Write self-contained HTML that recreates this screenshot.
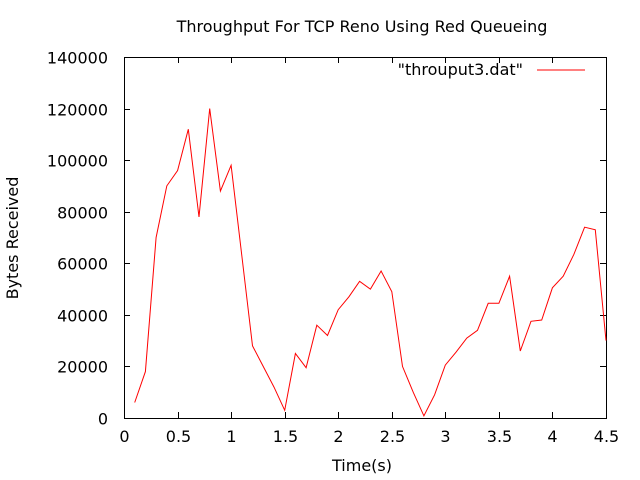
<!DOCTYPE html>
<html><head><meta charset="utf-8"><style>
body{margin:0;background:#fff}
svg{display:block;font-family:"DejaVu Sans","Liberation Sans",sans-serif}
</style></head><body>
<svg id="chart" width="640" height="480">
<rect x="0" y="0" width="640" height="480" fill="#fff"/>
<g id="axes"></g>
<text x="362" y="32" font-size="16" text-anchor="middle">Throughput For TCP Reno Using Red Queueing</text>
<text x="362" y="471" font-size="16" text-anchor="middle">Time(s)</text>
<text transform="translate(18,238) rotate(-90)" font-size="16" text-anchor="middle">Bytes Received</text>
<g>
<text x="523" y="75" font-size="16" text-anchor="end">"throuput3.dat"</text>
<line x1="537" y1="70" x2="585" y2="70" stroke="#f00" stroke-width="1"/>
</g>
<polyline id="series" fill="none" stroke="#f00" stroke-width="1"/>
</svg>
<script>
const times=[0.1,0.2,0.3,0.4,0.5,0.6,0.7,0.8,0.9,1.0,1.1,1.2,1.3,1.4,1.5,1.6,1.7,1.8,1.9,2.0,2.1,2.2,2.3,2.4,2.5,2.6,2.7,2.8,2.9,3.0,3.1,3.2,3.3,3.4,3.5,3.6,3.7,3.8,3.9,4.0,4.1,4.2,4.3,4.4,4.5];
const bytes=[6000,18000,70000,90000,96000,112000,78000,120000,88000,98000,63000,28000,20000,12000,3000,25000,19500,36000,32000,42000,47000,53000,50000,57000,49000,20000,10000,800,9000,20500,25500,31000,34000,44500,44500,55000,26000,37500,38000,50500,55000,63500,74000,73000,30000];
const xTicks=[0,0.5,1,1.5,2,2.5,3,3.5,4,4.5];
const xTickLabels=["0","0.5","1","1.5","2","2.5","3","3.5","4","4.5"];
const yTicks=[0,20000,40000,60000,80000,100000,120000,140000];
const yTickLabels=["0","20000","40000","60000","80000","100000","120000","140000"];
const X0=124,X1=606,Y0=418,Y1=57;
const sx=v=>X0+(v-0)/4.5*(X1-X0);
const sy=v=>Y0-(v/140000)*(Y0-Y1);
const NS="http://www.w3.org/2000/svg";
const axes=document.getElementById('axes');
function mk(t,a){const e=document.createElementNS(NS,t);for(const k in a)e.setAttribute(k,a[k]);axes.appendChild(e);return e;}
const fr=mk('rect',{x:X0+.5,y:Y1+.5,width:X1-X0,height:Y0-Y1,fill:'none',stroke:'#000'});


xTicks.forEach((v,i)=>{const x=Math.round(sx(v))+.5;
mk('line',{x1:x,y1:Y0,x2:x,y2:Y0-6,stroke:'#000'});
mk('line',{x1:x,y1:Y1,x2:x,y2:Y1+6,stroke:'#000'});
const t=mk('text',{x:x,y:Y0+24,'font-size':16,'text-anchor':'middle'});t.textContent=xTickLabels[i];

});
yTicks.forEach((v,i)=>{const y=Math.round(sy(v))+.5;
mk('line',{x1:X0,y1:y,x2:X0+6,y2:y,stroke:'#000'});
mk('line',{x1:X1,y1:y,x2:X1-6,y2:y,stroke:'#000'});
const t=mk('text',{x:X0-16,y:y+6,'font-size':16,'text-anchor':'end'});t.textContent=yTickLabels[i];

});
document.getElementById('series').setAttribute('points',times.map((t,i)=>sx(t).toFixed(1)+','+sy(bytes[i]).toFixed(1)).join(' '));
</script>
</body></html>
